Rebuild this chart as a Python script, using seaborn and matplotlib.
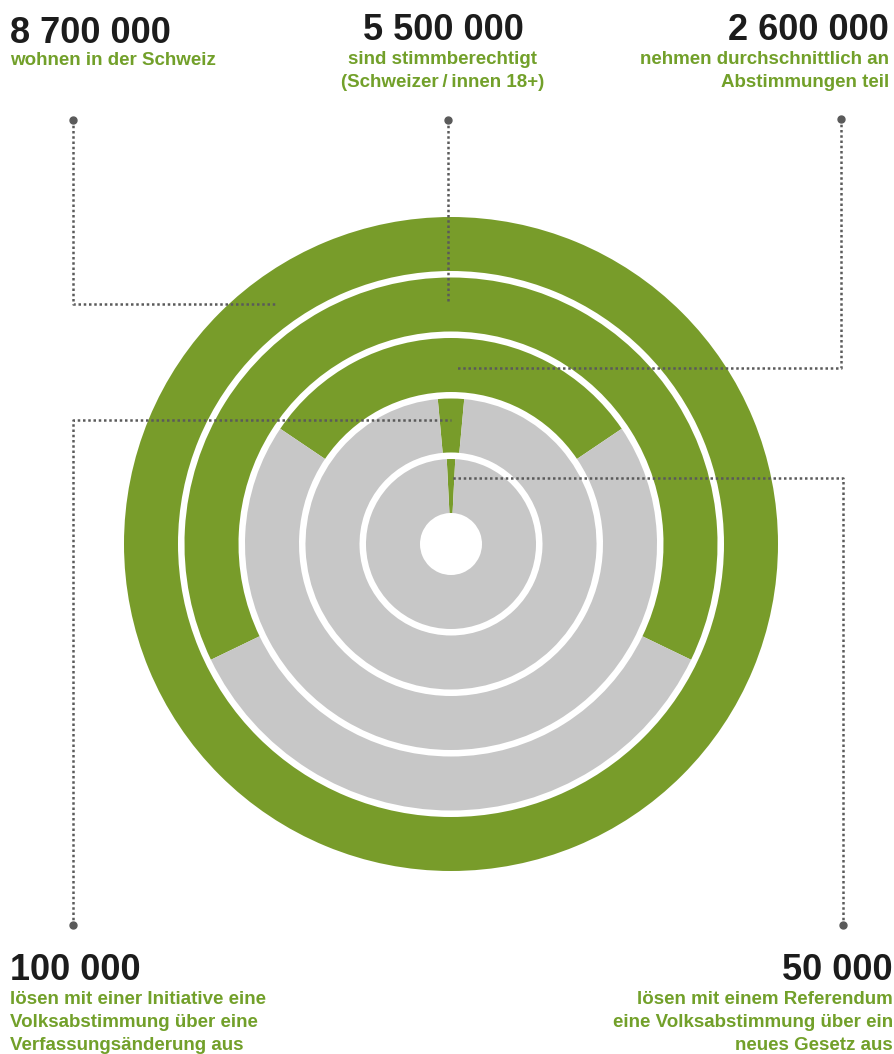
import matplotlib.pyplot as plt
import seaborn as sns

# --- data ---
counts = [8_700_000, 5_500_000, 2_600_000, 100_000, 50_000]
# green share of each ring as drawn in the graphic (small ones exaggerated)
ring_share = [1.0, 0.643, 0.311, 0.029, 0.016]
numbers = ["8 700 000", "5 500 000", "2 600 000", "100 000", "50 000"]
captions = [
    ["wohnen in der Schweiz"],
    ["sind stimmberechtigt", "(Schweizer\u2009/\u2009innen 18+)"],
    ["nehmen durchschnittlich an", "Abstimmungen teil"],
    ["lösen mit einer Initiative eine", "Volksabstimmung über eine", "Verfassungsänderung aus"],
    ["lösen mit einem Referendum", "eine Volksabstimmung über ein", "neues Gesetz aus"],
]

GREEN = "#789c2a"
GRAY = "#c7c7c7"
TEXT_GREEN = "#72a02a"
DARK = "#1c1c1c"
LEADER = "#5a5a5a"

W, H = 894, 1054
CX, CY = 451, H - 544
radii = [327, 266.5, 206, 145.5, 85]
ring_w = 54

sns.set_theme(style="white")
plt.rcParams["font.family"] = ["Liberation Sans", "DejaVu Sans"]

fig = plt.figure(figsize=(W / 100, H / 100), dpi=100)
ax = fig.add_axes([0, 0, 1, 1])

# rings: green share centred at the top
for s, r in zip(ring_share, radii):
    ax.pie([s, 1 - s], radius=r, center=(CX, CY), startangle=90 - 180 * s,
           colors=[GREEN, GRAY], wedgeprops=dict(width=ring_w, linewidth=0))

# leader lines (pixel coords, y down)
leaders = [
    [(73, 120), (73, 304), (277, 304)],
    [(448, 120), (448, 302)],
    [(841, 119), (841, 368), (455, 368)],
    [(73, 925), (73, 420), (451, 420)],
    [(843, 925), (843, 478), (450, 478)],
]
for pts in leaders:
    xs = [p[0] for p in pts]
    ys = [H - p[1] for p in pts]
    ax.plot(xs, ys, color=LEADER, lw=1.8, ls=(0, (1.0, 1.1)), zorder=5)
    ax.plot(xs[0], ys[0], "o", color=LEADER, ms=5, zorder=6)

# labels: (x, number baseline, caption first baseline, alignment)
label_pos = [
    (10, 43, 65, "left"),
    (443, 40, 64, "center"),
    (889, 40, 64, "right"),
    (10, 980, 1004, "left"),
    (893, 980, 1004, "right"),
]
for num, cap, (x, yn, yc, ha) in zip(numbers, captions, label_pos):
    ax.text(x, H - yn, num, ha=ha, va="baseline", fontsize=26,
            fontweight="bold", color=DARK)
    for i, line in enumerate(cap):
        ax.text(x, H - (yc + 23 * i), line, ha=ha, va="baseline",
                fontsize=13.5, fontweight="bold", color=TEXT_GREEN)

ax.set_xlim(0, W)
ax.set_ylim(0, H)
ax.set_aspect("equal")
ax.axis("off")

fig.savefig("out.png", dpi=100)
